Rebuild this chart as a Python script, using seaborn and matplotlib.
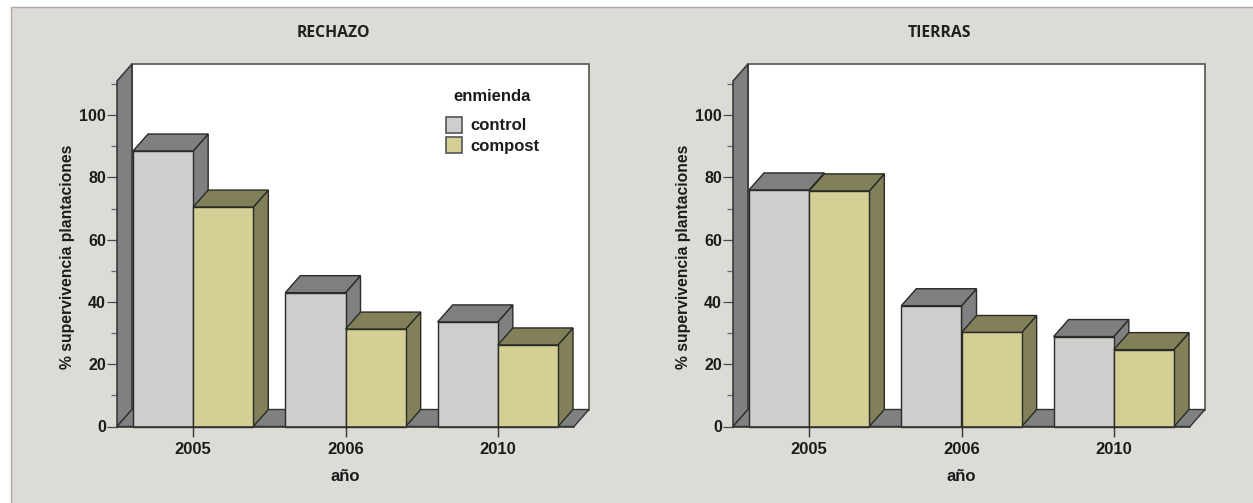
import matplotlib
matplotlib.use("Agg")
import matplotlib.pyplot as plt
from matplotlib.patches import Polygon, Rectangle
from matplotlib.ticker import MultipleLocator
import pandas as pd
import seaborn as sns

years = ["2005", "2006", "2010"]
treatments = ["control", "compost"]
rechazo_control = [88.5, 43, 33.6]
rechazo_compost = [70.5, 31.3, 26.2]
tierras_control = [76, 38.8, 28.9]
tierras_compost = [75.7, 30.2, 24.7]

FIG_W, FIG_H = 1253, 503
PANEL_BG = "#dddbd6"
PANEL_EDGE = "#b3a89f"
FRONT = {"control": "#cfcecd", "compost": "#d3cf95"}
TOP = {"control": "#7f7f80", "compost": "#828058"}
SIDE = {"control": "#808082", "compost": "#828058"}
WALL = "#7f8082"
TEXT = "#1c1c1c"
LINE = "#2a2a26"
YMAX = 111
DEPTH_PX = (15, 17)

sns.set_theme(style="white")
plt.rcParams["font.family"] = ["Liberation Sans", "DejaVu Sans"]


def long_table(control, compost):
    return pd.DataFrame({
        "año": years * 2,
        "enmienda": [treatments[0]] * 3 + [treatments[1]] * 3,
        "supervivencia": list(control) + list(compost),
    })


def axes_at(fig, left, right, top, bottom):
    return fig.add_axes([left / FIG_W, 1 - bottom / FIG_H,
                         (right - left) / FIG_W, (bottom - top) / FIG_H])


def extrude(ax, bar, side_color, top_color, dx, dy, z):
    # Side and top faces of a bar, offset by the depth of the box
    x0, x1 = bar.get_x(), bar.get_x() + bar.get_width()
    h = bar.get_height()
    ax.add_patch(Polygon([(x1, 0), (x1 + dx, dy), (x1 + dx, h + dy), (x1, h)],
                         fc=side_color, ec=LINE, lw=1.0, clip_on=False, zorder=z))
    ax.add_patch(Polygon([(x0, h), (x0 + dx, h + dy), (x1 + dx, h + dy), (x1, h)],
                         fc=top_color, ec=LINE, lw=1.0, clip_on=False, zorder=z))


def draw_panel(fig, left, title, title_x, control, compost, with_legend=False):
    ax = axes_at(fig, left, left + 457, 81, 426.5)
    ax.patch.set_visible(False)
    sns.barplot(data=long_table(control, compost), x="año", y="supervivencia",
                hue="enmienda", order=years, hue_order=treatments, palette=FRONT,
                width=0.79, gap=0, saturation=1, edgecolor=LINE, linewidth=1.0,
                legend=with_legend, ax=ax)
    ax.set_xlim(-0.5, 2.5)
    ax.set_ylim(0, YMAX)
    dx = DEPTH_PX[0] * 3 / 457
    dy = DEPTH_PX[1] * YMAX / 345.5

    # Box behind the bars: back wall, left wall and floor
    ax.add_patch(Rectangle((-0.5 + dx, dy), 3, YMAX, fc="white", ec="#55554f", lw=1.2,
                           clip_on=False, zorder=0.5))
    ax.add_patch(Polygon([(-0.5, 0), (-0.5 + dx, dy), (-0.5 + dx, YMAX + dy), (-0.5, YMAX)],
                         fc=WALL, ec="#333333", lw=1.1, clip_on=False, zorder=0.6))
    ax.add_patch(Polygon([(-0.5, 0), (-0.5 + dx, dy), (2.5 + dx, dy), (2.5, 0)],
                         fc=WALL, ec="#333333", lw=1.0, clip_on=False, zorder=0.6))

    # Stack bars from left to right so that each front face covers its neighbour's depth
    groups = [(bar, name) for container, name in zip(ax.containers, treatments) for bar in container]
    for z, (bar, name) in enumerate(sorted(groups, key=lambda g: g[0].get_x())):
        bar.set_zorder(3 + 2 * z)
        bar.set_clip_on(False)
        extrude(ax, bar, SIDE[name], TOP[name], dx, dy, 2 + 2 * z)

    sns.despine(ax=ax, top=True, right=True, left=True, bottom=False)
    ax.spines["bottom"].set_color("#333333")
    ax.spines["bottom"].set_linewidth(1.1)
    ax.spines["bottom"].set_zorder(40)
    ax.yaxis.set_major_locator(MultipleLocator(20))
    ax.yaxis.set_minor_locator(MultipleLocator(10))
    ax.tick_params(axis="y", which="major", left=True, length=7.5, width=0.9, color="#4a4a4a",
                   labelsize=11.5, labelcolor=TEXT, pad=0.5)
    ax.tick_params(axis="y", which="minor", left=True, length=4, width=0.9, color="#666666")
    ax.tick_params(axis="x", bottom=True, length=7.5, width=1, color="#333333",
                   labelsize=12, labelcolor=TEXT, pad=4)
    for lab in ax.get_xticklabels() + ax.get_yticklabels():
        lab.set_fontweight("bold")
    ax.set_xlabel("año", fontsize=12, fontweight="bold", color=TEXT, labelpad=8)
    ax.set_ylabel("% supervivencia plantaciones", fontsize=11.3, fontweight="bold",
                  color=TEXT, labelpad=3, y=0.49)
    fig.text(title_x / FIG_W, 1 - 33 / FIG_H, title, ha="center", va="center",
             fontsize=11.3, family="Open Sans", fontweight="bold", color="#202020")

    if with_legend:
        legend = ax.legend(
            handles=ax.get_legend().legend_handles, labels=treatments, title="enmienda",
            loc="upper left", bbox_to_anchor=((446 - left) / 457, (426.5 - 89) / 345.5),
            frameon=False, borderpad=0, borderaxespad=0, handlelength=0.96, handleheight=1.1,
            handletextpad=0.48, labelspacing=0.22, fontsize=12, labelcolor=TEXT,
            title_fontproperties={"weight": "bold", "size": 12})
        legend.set_zorder(50)
        legend._legend_box.sep = 9
        legend.get_title().set_color(TEXT)
        for t in legend.get_texts():
            t.set_fontweight("bold")
        for h in legend.legend_handles:
            h.set_edgecolor("#555555")
            h.set_linewidth(1.2)
    return ax


fig = plt.figure(figsize=(FIG_W / 100, FIG_H / 100), dpi=100, facecolor="white")
fig.add_artist(Rectangle((11 / FIG_W, -0.02), 1.1, 1.02 - 7 / FIG_H,
                         transform=fig.transFigure, fc=PANEL_BG, ec=PANEL_EDGE, lw=1, zorder=-5))
draw_panel(fig, 117, "RECHAZO", 333, rechazo_control, rechazo_compost, with_legend=True)
draw_panel(fig, 733, "TIERRAS", 939.5, tierras_control, tierras_compost)
fig.savefig("out.png", dpi=100, facecolor=fig.get_facecolor())
